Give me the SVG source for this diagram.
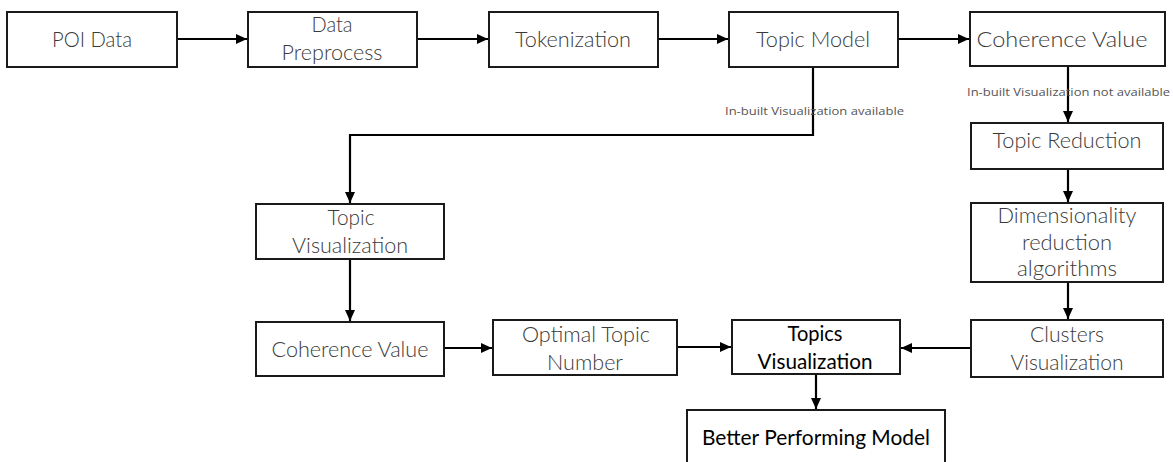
<svg xmlns="http://www.w3.org/2000/svg" width="1173" height="462" viewBox="0 0 1173 462">
<style>
.box{fill:#fff;stroke:#1a1a1a;stroke-width:2}
.t{font-family:Lato,"Open Sans","Liberation Sans",sans-serif;font-weight:300;font-size:21.5px;fill:#3a3a3a;text-anchor:middle}
.tb{font-family:Lato,"Open Sans","Liberation Sans",sans-serif;font-weight:400;font-size:21px;fill:#000;text-anchor:middle}
.lbl{font-family:"Open Sans","Liberation Sans",sans-serif;font-weight:400;font-size:11.5px;fill:#555}
.c{fill:none;stroke:#000;stroke-width:2.2}
</style>
<defs>
<marker id="ah" markerUnits="userSpaceOnUse" markerWidth="12" markerHeight="10" refX="11" refY="5" orient="auto">
<path d="M0,0 L11,5 L0,10 Z" fill="#000"/>
</marker>
</defs>
<g id="connectors">
<path class="c" d="M177,39 H247" marker-end="url(#ah)"/>
<path class="c" d="M417,39 H488" marker-end="url(#ah)"/>
<path class="c" d="M658,39 H728" marker-end="url(#ah)"/>
<path class="c" d="M898,39 H969" marker-end="url(#ah)"/>
<path class="c" d="M813,67 V135 H350 V203" marker-end="url(#ah)"/>
<path class="c" d="M1068,66 V122" marker-end="url(#ah)"/>
<path class="c" d="M1068,169 V202" marker-end="url(#ah)"/>
<path class="c" d="M1068,282 V319" marker-end="url(#ah)"/>
<path class="c" d="M971,348 H901" marker-end="url(#ah)"/>
<path class="c" d="M350,259 V321" marker-end="url(#ah)"/>
<path class="c" d="M444,348 H492" marker-end="url(#ah)"/>
<path class="c" d="M677,347 H731" marker-end="url(#ah)"/>
<path class="c" d="M816,374 V409" marker-end="url(#ah)"/>
<text class="lbl" x="725" y="115" textLength="179" lengthAdjust="spacingAndGlyphs">In-built Visualization available</text>
<text class="lbl" x="967" y="96" textLength="203" lengthAdjust="spacingAndGlyphs">In-built Visualization not available</text>
</g>
<g id="poi-data"><rect class="box" x="7" y="12" width="170" height="55"/><text class="t" x="92" y="47" textLength="80" lengthAdjust="spacingAndGlyphs">POI Data</text></g>
<g id="data-preprocess"><rect class="box" x="248" y="12" width="169" height="55"/><text class="t" x="332" y="32" textLength="41" lengthAdjust="spacingAndGlyphs">Data</text><text class="t" x="332" y="60" textLength="101" lengthAdjust="spacingAndGlyphs">Preprocess</text></g>
<g id="tokenization"><rect class="box" x="489" y="12" width="169" height="55"/><text class="t" x="573" y="47" textLength="116" lengthAdjust="spacingAndGlyphs">Tokenization</text></g>
<g id="topic-model"><rect class="box" x="729" y="12" width="169" height="55"/><text class="t" x="813" y="47" textLength="114" lengthAdjust="spacingAndGlyphs">Topic Model</text></g>
<g id="coherence-value-top"><rect class="box" x="970" y="12" width="195" height="54"/><text class="t" x="1062" y="47" textLength="171" lengthAdjust="spacingAndGlyphs">Coherence Value</text></g>
<g id="topic-reduction"><rect class="box" x="971" y="123" width="192" height="46"/><text class="t" x="1067" y="148" textLength="149" lengthAdjust="spacingAndGlyphs">Topic Reduction</text></g>
<g id="dimensionality"><rect class="box" x="971" y="203" width="192" height="79"/><text class="t" x="1067" y="223" textLength="139" lengthAdjust="spacingAndGlyphs">Dimensionality</text><text class="t" x="1067" y="250" textLength="90" lengthAdjust="spacingAndGlyphs">reduction</text><text class="t" x="1067" y="276" textLength="100" lengthAdjust="spacingAndGlyphs">algorithms</text></g>
<g id="clusters-visualization"><rect class="box" x="971" y="320" width="192" height="57"/><text class="t" x="1067" y="342" textLength="74" lengthAdjust="spacingAndGlyphs">Clusters</text><text class="t" x="1067" y="370" textLength="113" lengthAdjust="spacingAndGlyphs">Visualization</text></g>
<g id="topic-visualization"><rect class="box" x="256" y="204" width="188" height="55"/><text class="t" x="351" y="225" textLength="47" lengthAdjust="spacingAndGlyphs">Topic</text><text class="t" x="350" y="253" textLength="116" lengthAdjust="spacingAndGlyphs">Visualization</text></g>
<g id="coherence-value-bottom"><rect class="box" x="256" y="322" width="188" height="54"/><text class="t" x="350" y="357" textLength="157" lengthAdjust="spacingAndGlyphs">Coherence Value</text></g>
<g id="optimal-topic-number"><rect class="box" x="493" y="320" width="184" height="55"/><text class="t" x="586" y="342" textLength="128" lengthAdjust="spacingAndGlyphs">Optimal Topic</text><text class="t" x="585" y="370" textLength="76" lengthAdjust="spacingAndGlyphs">Number</text></g>
<g id="topics-visualization"><rect class="box" x="732" y="320" width="168" height="54"/><text class="tb" x="815" y="341" textLength="55" lengthAdjust="spacingAndGlyphs">Topics</text><text class="tb" x="815" y="369" textLength="115" lengthAdjust="spacingAndGlyphs">Visualization</text></g>
<g id="better-performing-model"><rect class="box" x="687" y="410" width="258" height="70"/><text class="tb" x="816" y="445" textLength="228" lengthAdjust="spacingAndGlyphs">Better Performing Model</text></g>
</svg>
